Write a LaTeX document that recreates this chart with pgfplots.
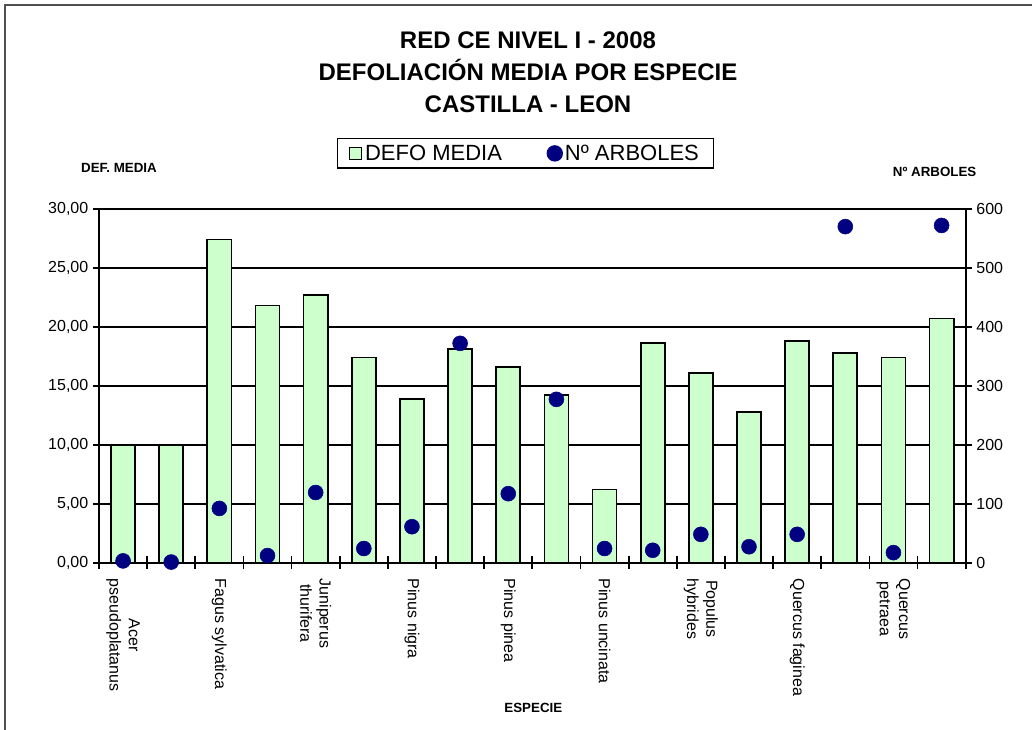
\documentclass[border=0pt]{standalone}
\usepackage{pgfplots}
\pgfplotsset{compat=1.18}
\usepackage{fontspec}
\setmainfont{Liberation Sans}
\definecolor{bargreen}{HTML}{CCFFCC}
\definecolor{dotblue}{HTML}{000080}
\definecolor{framegray}{HTML}{505050}
\newcommand{\fs}[1]{\fontsize{#1}{1.2\dimexpr#1pt\relax}\selectfont}
\begin{document}
\begin{tikzpicture}
% page = 1032 x 730 px, 1 px = 0.75 pt
\path[use as bounding box] (0,0) rectangle (774pt,547.5pt);
\draw[framegray, line width=1.5pt] (3.5pt,0) -- (3.5pt,543.8pt) -- (774pt,543.8pt);

% titles
\node[anchor=base, font=\bfseries\fs{18}] at (396pt,511pt) {RED CE NIVEL I - 2008};
\node[anchor=base, font=\bfseries\fs{18}] at (396pt,487pt) {DEFOLIACIÓN MEDIA POR ESPECIE};
\node[anchor=base, font=\bfseries\fs{18}] at (396pt,463pt) {CASTILLA - LEON};
\node[font=\bfseries\fs{10}] at (89.25pt,421.5pt) {DEF. MEDIA};
\node[font=\bfseries\fs{10}] at (701pt,418.5pt) {Nº ARBOLES};
\node[font=\bfseries\fs{10}] at (400pt,16.5pt) {ESPECIE};

\pgfplotsset{
  common/.style={
    scale only axis, width=650pt, height=265.3pt,
    at={(74.25pt,125.5pt)}, anchor=south west,
    xmin=-0.5, xmax=17.5,
    axis line style={black, line width=1.3pt},
    tick style={black, line width=1.3pt},
    tick align=center, major tick length=9pt,
    /pgf/number format/assume math mode=true,
    ticklabel style={font=\fs{12}},
  }
}

% bars: defoliacion media
\begin{axis}[common,
    ymin=0, ymax=30, ytick={0,5,...,30}, ytick pos=left,
    scaled y ticks=false,
    yticklabel style={/pgf/number format/fixed, /pgf/number format/fixed zerofill,
      /pgf/number format/precision=2, /pgf/number format/use comma},
    ymajorgrids, major grid style={black, line width=1.3pt},
    xtick={0,...,17}, xtick pos=bottom,
    major x tick style={draw=none},
    minor xtick={-0.5,0.5,...,17.5}, minor tick length=9.75pt,
    xticklabels={{Acer\\pseudoplatanus},{},{Fagus sylvatica},{},{Juniperus\\thurifera},{},
      {Pinus nigra},{},{Pinus pinea},{},{Pinus uncinata},{},{Populus\\hybrides},{},
      {Quercus faginea},{},{Quercus\\petraea},{}},
    xticklabel style={rotate=-90, anchor=west, align=center, xshift=4pt},
  ]
  \addplot[ybar, bar width=0.5, fill=bargreen, draw=black, line width=1.3pt] coordinates {
    (0,10.0) (1,10.0) (2,27.4) (3,21.8) (4,22.7) (5,17.4) (6,13.9) (7,18.1) (8,16.6)
    (9,14.2) (10,6.2) (11,18.6) (12,16.1) (13,12.8) (14,18.8) (15,17.8) (16,17.4) (17,20.7)
  };
\end{axis}

% dots: numero de arboles
\begin{axis}[common,
    ymin=0, ymax=600, ytick={0,100,...,600},
    axis y line*=right, axis x line=none,
    legend columns=2,
    legend style={at={(0.492,1.157)}, anchor=center, draw=black, line width=1.1pt,
      font=\fs{16.5}, inner xsep=9pt, inner ysep=2.5pt,
      /tikz/every even column/.append style={column sep=32pt}},
  ]
  \addlegendimage{legend image code/.code={
      \draw[fill=bargreen, draw=black, line width=0.9pt] (0pt,-4.5pt) rectangle (9pt,4.5pt);}}
  \addlegendentry{DEFO MEDIA}
  \addplot[only marks, mark=*, mark size=5.6pt, color=dotblue] coordinates {
    (0,3) (1,1) (2,92) (3,12) (4,119) (5,24) (6,61) (7,372) (8,117)
    (9,277) (10,24) (11,21) (12,48) (13,27) (14,48) (15,570) (16,17) (17,572)
  };
  \addlegendentry{Nº ARBOLES}
\end{axis}
\end{tikzpicture}
\end{document}
